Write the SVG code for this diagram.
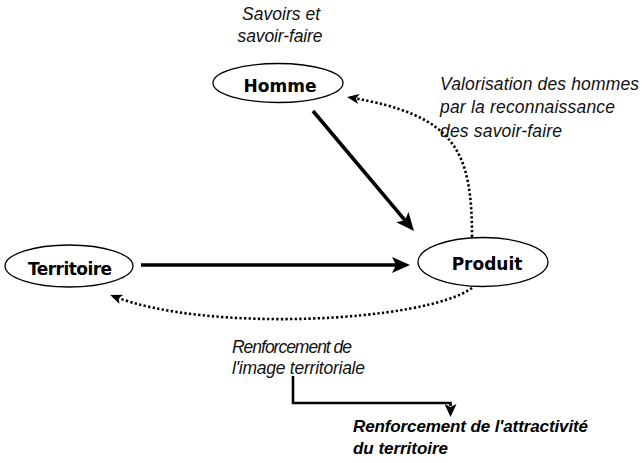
<svg xmlns="http://www.w3.org/2000/svg" width="642" height="463" viewBox="0 0 642 463">
<style>
.bg{fill:#fff}
.node{fill:#fff;stroke:#000;stroke-width:1.3}
.lbl{font-family:"DejaVu Sans","Liberation Sans",sans-serif;font-weight:bold;font-size:17px;fill:#000;text-anchor:middle}
.it{font-family:"Liberation Sans",Arial,sans-serif;font-style:italic;font-size:17.5px;fill:#111}
.bi{font-family:"Liberation Sans",Arial,sans-serif;font-style:italic;font-weight:bold;font-size:17px;fill:#000}
.thick{fill:none;stroke:#000;stroke-width:3.6}
.dot{fill:none;stroke:#000;stroke-width:2.6;stroke-dasharray:2.3 2.3}
.elbow{fill:none;stroke:#000;stroke-width:2.6}
</style>
<defs>
<marker id="big" viewBox="0 0 18 16" refX="12" refY="8" markerWidth="18" markerHeight="16" markerUnits="userSpaceOnUse" orient="auto">
<path d="M0,0 L18,8 L0,16 L4,8 z" fill="#000"/>
</marker>
<marker id="small" viewBox="0 0 12 10" refX="9" refY="5" markerWidth="12" markerHeight="10" markerUnits="userSpaceOnUse" orient="auto">
<path d="M0,0 L12,5 L0,10 L3,5 z" fill="#000"/>
</marker>
<marker id="med" viewBox="0 0 13 12" refX="2" refY="6" markerWidth="13" markerHeight="12" markerUnits="userSpaceOnUse" orient="auto">
<path d="M0,0 L13,6 L0,12 L3,6 z" fill="#000"/>
</marker>
</defs>
<rect class="bg" x="0" y="0" width="642" height="463"/>

<g id="connectors">
<path class="thick" d="M141,265 L404,265" marker-end="url(#big)"/>
<path class="thick" d="M313,111 L410.1,226.4" marker-end="url(#big)"/>
<path class="dot" d="M472,237 C472,150 455,115 350,97.5" marker-end="url(#small)"/>
<path class="dot" d="M472,288 C425,322 205,333 113,296" marker-end="url(#small)"/>
<path class="elbow" d="M293,376 V403 H450.5 V406" marker-end="url(#med)"/>
</g>

<g id="node-homme">
<ellipse class="node" cx="278" cy="83" rx="65" ry="19.5"/>
<text class="lbl" x="280" y="92">Homme</text>
</g>
<g id="node-produit">
<ellipse class="node" cx="483" cy="262" rx="65" ry="24.5"/>
<text class="lbl" x="487" y="270">Produit</text>
</g>
<g id="node-territoire">
<ellipse class="node" cx="69" cy="266" rx="64" ry="21"/>
<text class="lbl" x="70" y="275" textLength="84">Territoire</text>
</g>

<g id="labels">
<text class="it" x="281" y="20" text-anchor="middle" textLength="78">Savoirs et</text>
<text class="it" x="280" y="42" text-anchor="middle" textLength="85">savoir-faire</text>
<text class="it" x="440" y="90" textLength="199">Valorisation des hommes</text>
<text class="it" x="440" y="113" textLength="175">par la reconnaissance</text>
<text class="it" x="440" y="136.5" textLength="122">des savoir-faire</text>
<text class="it" x="232" y="353" textLength="120">Renforcement de</text>
<text class="it" x="232" y="374" textLength="133">l'image territoriale</text>
<text class="bi" x="353" y="432" textLength="235">Renforcement de l'attractivité</text>
<text class="bi" x="353" y="454" textLength="95">du territoire</text>
</g>
</svg>
